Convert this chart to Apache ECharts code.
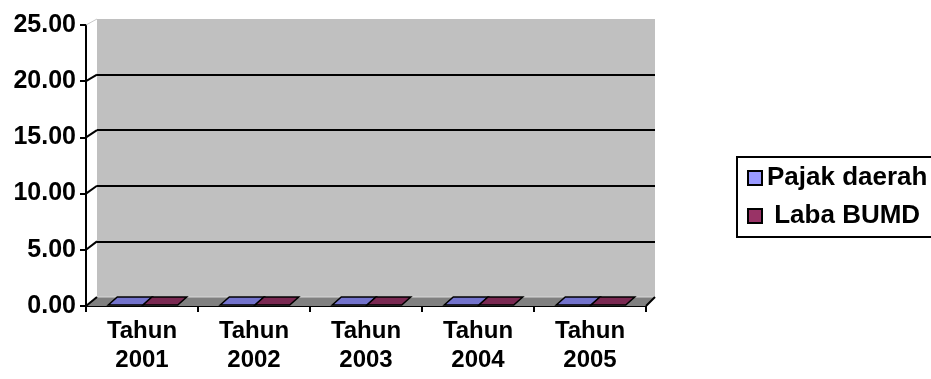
<!DOCTYPE html>
<html>
<head>
<meta charset="utf-8">
<title>Pajak daerah dan Laba BUMD</title>
<script src="https://cdn.jsdelivr.net/npm/echarts/dist/echarts.min.js"></script>
<style>
  html, body { margin: 0; padding: 0; background: #ffffff; }
  #chart { width: 931px; height: 379px; }
</style>
</head>
<body>
<div id="chart"></div>
<script>
// ---- data ----
const categories = ['Tahun 2001', 'Tahun 2002', 'Tahun 2003', 'Tahun 2004', 'Tahun 2005'];
const pajakDaerah = [0, 0, 0, 0, 0];
const labaBUMD = [0, 0, 0, 0, 0];
const seriesNames = ['Pajak daerah', 'Laba BUMD'];
const yTicks = [0, 5, 10, 15, 20, 25];

// ---- layout of the 3-D frame (front axes plane and back wall) ----
const FRONT = { left: 86, top: 25, right: 646, bottom: 306 };
const BACK = { left: 97, top: 19, right: 655, bottom: 297 };
const Y_MAX = 25;
const DEPTH_DX = 9, DEPTH_DY = -8;   // bar depth offset
const FONT = '"Liberation Sans", Arial, sans-serif';

function backY(v) {
  return BACK.bottom - (BACK.bottom - BACK.top) * v / Y_MAX;
}

// floor, wall edge and the slanted links between front ticks and back gridlines
function renderFrame(params, api) {
  const children = [];
  const y0 = api.coord([0, 0])[1];
  children.push({
    type: 'polygon',
    shape: { points: [[FRONT.left, y0], [FRONT.right, y0], [BACK.right, BACK.bottom], [BACK.left, BACK.bottom]] },
    style: { fill: '#808080', stroke: null }
  });
  children.push({
    type: 'line',
    shape: { x1: BACK.left, y1: BACK.bottom, x2: BACK.right, y2: BACK.bottom },
    style: { stroke: '#d8d8d8', lineWidth: 1 }
  });
  children.push({
    type: 'line',
    shape: { x1: FRONT.right, y1: y0, x2: BACK.right, y2: BACK.bottom },
    style: { stroke: '#000000', lineWidth: 2 }
  });
  yTicks.forEach(function (v) {
    const yf = api.coord([0, v])[1];
    const top = v === Y_MAX;
    children.push({
      type: 'line',
      shape: { x1: FRONT.left, y1: yf, x2: BACK.left, y2: backY(v) },
      style: { stroke: top ? '#c8c8c8' : '#000000', lineWidth: top ? 1 : 2 }
    });
  });
  return { type: 'group', children: children };
}

// flat 3-D column: front face, side face and top face
function barRenderer(slot, frontColor, topColor, sideColor) {
  return function (params, api) {
    const i = api.value(0), v = api.value(1);
    const base = api.coord([i, 0]);
    const tip = api.coord([i, v]);
    const band = api.size([1, 0])[0];
    const w = band * 0.31;
    const x0 = base[0] + (slot === 0 ? -w : 0) + 1;
    const yb = base[1] - 1;
    const yt = Math.min(tip[1], yb);
    const h = yb - yt;
    const children = [];
    if (h > 0.5) {
      children.push({
        type: 'rect',
        shape: { x: x0, y: yt, width: w, height: h },
        style: { fill: frontColor, stroke: '#000', lineWidth: 1 }
      });
      children.push({
        type: 'polygon',
        shape: { points: [[x0 + w, yt], [x0 + w + DEPTH_DX, yt + DEPTH_DY], [x0 + w + DEPTH_DX, yb + DEPTH_DY], [x0 + w, yb]] },
        style: { fill: sideColor, stroke: '#000', lineWidth: 1 }
      });
    }
    children.push({
      type: 'polygon',
      shape: { points: [[x0, yt], [x0 + w, yt], [x0 + w + DEPTH_DX, yt + DEPTH_DY], [x0 + DEPTH_DX, yt + DEPTH_DY]] },
      style: { fill: topColor, stroke: '#000', lineWidth: 1.5 }
    });
    return { type: 'group', children: children };
  };
}

const chart = echarts.init(document.getElementById('chart'), null, { renderer: 'canvas' });

chart.setOption({
  backgroundColor: '#ffffff',
  animation: false,
  textStyle: { fontFamily: FONT },
  grid: [
    { // back wall
      left: BACK.left, top: BACK.top,
      width: BACK.right - BACK.left, height: BACK.bottom - BACK.top,
      show: true, backgroundColor: '#C0C0C0', borderWidth: 0
    },
    { // front axes plane
      left: FRONT.left, top: FRONT.top,
      width: FRONT.right - FRONT.left, height: FRONT.bottom - FRONT.top,
      show: false
    }
  ],
  xAxis: [
    { type: 'category', gridIndex: 0, data: categories, show: false },
    {
      type: 'category', gridIndex: 1, data: categories,
      axisLine: { lineStyle: { color: '#000', width: 2 } },
      axisTick: { show: true, length: 6, lineStyle: { color: '#000', width: 2 } },
      axisLabel: {
        color: '#000', fontFamily: FONT, fontWeight: 'bold', fontSize: 24,
        lineHeight: 29, margin: 11, interval: 0,
        formatter: function (s) { return s.replace(' ', '\n'); }
      },
      splitLine: { show: false }
    }
  ],
  yAxis: [
    {
      type: 'value', gridIndex: 0, min: 0, max: Y_MAX, interval: 5,
      axisLine: { show: false }, axisTick: { show: false }, axisLabel: { show: false },
      splitLine: { show: true, showMinLine: false, showMaxLine: false, lineStyle: { color: '#000', width: 2 } }
    },
    {
      type: 'value', gridIndex: 1, min: 0, max: Y_MAX, interval: 5,
      axisLine: { show: true, lineStyle: { color: '#000', width: 2 } },
      axisTick: { show: true, length: 6, lineStyle: { color: '#000', width: 2 } },
      axisLabel: {
        color: '#000', fontFamily: FONT, fontWeight: 'bold', fontSize: 25, margin: 10,
        formatter: function (v) { return v.toFixed(2); }
      },
      splitLine: { show: false }
    }
  ],
  legend: {
    orient: 'vertical',
    left: 737, top: 157,
    padding: [7, 40, 7, 10],
    itemGap: 10,
    itemWidth: 14, itemHeight: 14,
    icon: 'rect',
    borderColor: '#000', borderWidth: 2,
    backgroundColor: '#ffffff',
    data: seriesNames,
    formatter: function (name) { return name === 'Laba BUMD' ? ' ' + name : name; },
    textStyle: { color: '#000', fontFamily: FONT, fontWeight: 'bold', fontSize: 26, lineHeight: 28 }
  },
  series: [
    {
      type: 'custom', name: 'frame', xAxisIndex: 1, yAxisIndex: 1,
      data: [[0, 0]], renderItem: renderFrame, silent: true, z: 1
    },
    {
      type: 'custom', name: seriesNames[0], xAxisIndex: 1, yAxisIndex: 1, z: 3,
      itemStyle: { color: '#9999FF', borderColor: '#000', borderWidth: 1 },
      data: pajakDaerah.map(function (v, i) { return [i, v]; }),
      renderItem: barRenderer(0, '#9999FF', '#7373CC', '#5c5ca3')
    },
    {
      type: 'custom', name: seriesNames[1], xAxisIndex: 1, yAxisIndex: 1, z: 3,
      itemStyle: { color: '#993366', borderColor: '#000', borderWidth: 1 },
      data: labaBUMD.map(function (v, i) { return [i, v]; }),
      renderItem: barRenderer(1, '#993366', '#7a2952', '#5c1f3d')
    }
  ]
});
</script>
</body>
</html>
